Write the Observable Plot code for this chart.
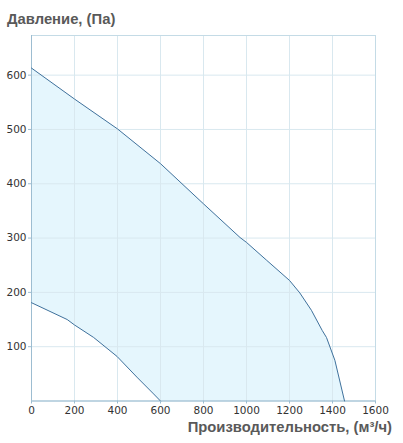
<!DOCTYPE html>
<html><head><meta charset="utf-8">
<script src="https://cdn.jsdelivr.net/npm/d3@7"></script>
<script src="https://cdn.jsdelivr.net/npm/@observablehq/plot@0.6"></script>
<style>
body{margin:0;background:#fff;}
#wrap{position:relative;width:403px;height:443px;}
#wrap svg{position:absolute;left:0;top:0;}
.t{position:absolute;font-family:"Liberation Sans",Arial,sans-serif;font-weight:bold;font-size:14.8px;line-height:17px;color:#595959;white-space:nowrap;z-index:2;}
</style></head><body>
<div id="wrap">
<div class="t" style="left:7px;top:11px">Давление, (Па)</div>
<div class="t" style="right:11px;top:419px">Производительность, (м³/ч)</div>
</div>
<script>
const upperFlow = [0, 200, 400, 600, 800, 970, 1000, 1094, 1200, 1248, 1302, 1352, 1372, 1411, 1456];
const upperPressure = [613, 556, 501, 437, 363, 301, 292, 259, 222, 199, 167, 130, 117, 75, 0];
const lowerFlow = [0, 166, 200, 289, 398, 490, 568, 600];
const lowerPressure = [181, 150, 140, 117, 82, 44, 13, 0];
const xTicks = [0, 200, 400, 600, 800, 1000, 1200, 1400, 1600];
const yTicks = [100, 200, 300, 400, 500, 600];

const upper = upperFlow.map((x, i) => ({x, y: upperPressure[i]}));
const lower = lowerFlow.map((x, i) => ({x, y: lowerPressure[i]}));
const polygon = upper.concat(lower.slice().reverse());

const axisColor = "#9dbdd1";
const gridColor = "#d9e8ef";
const lineColor = "#3f719c";

const chart = Plot.plot({
  width: 403,
  height: 443,
  marginTop: 35,
  marginLeft: 31,
  marginRight: 28,
  marginBottom: 42.5,
  style: {fontFamily: "DejaVu Sans, Verdana, sans-serif", fontSize: "10.5px", background: "transparent"},
  x: {domain: [0, 1600]},
  y: {domain: [0, 673]},
  marks: [
    Plot.line(polygon, {x: "x", y: "y", fill: "#e5f6fd", stroke: "none", curve: "linear"}),
    Plot.gridX(xTicks, {stroke: gridColor, strokeOpacity: 1}),
    Plot.gridY(yTicks, {stroke: gridColor, strokeOpacity: 1}),
    Plot.frame({stroke: "#c4dbe6"}),
    Plot.ruleX([0], {stroke: axisColor}),
    Plot.ruleY([0], {stroke: axisColor}),
    Plot.line(upper, {x: "x", y: "y", stroke: lineColor, strokeWidth: 1}),
    Plot.line(lower, {x: "x", y: "y", stroke: lineColor, strokeWidth: 1}),
    Plot.axisX(xTicks, {label: null, tickSize: 3, tickPadding: 3, tickFormat: d => String(d), stroke: axisColor, fill: "#333"}),
    Plot.axisY(yTicks, {label: null, tickSize: 3, tickPadding: 2, tickFormat: d => String(d), stroke: axisColor, fill: "#333"})
  ]
});
document.getElementById("wrap").appendChild(chart);
</script>
</body></html>
